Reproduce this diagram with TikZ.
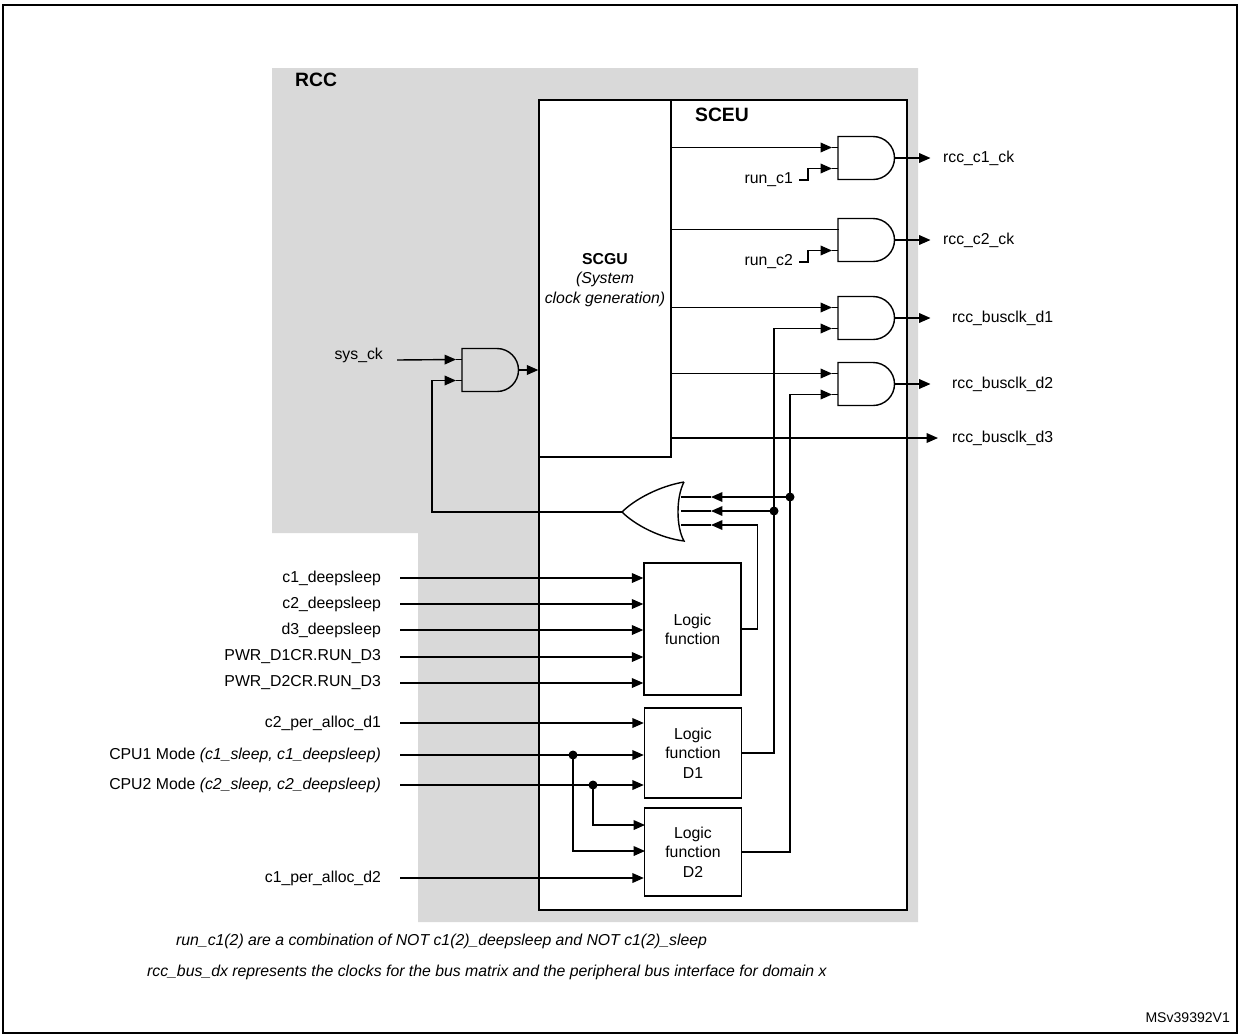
\documentclass[tikz,border=0pt]{standalone}
\usepackage{fontspec}
\setmainfont{Liberation Sans}
\usetikzlibrary{arrows.meta}

\tikzset{
  wire/.style={line width=0.8pt},
  ar/.style={wire, -{Triangle[length=6.5pt,width=5.5pt]}},
  lbl/.style={font=\fontsize{9}{11}\selectfont, inner sep=1pt},
  lfbox/.style={draw, wire, minimum width=1.94cm, align=center, font=\fontsize{9}{11}\selectfont},
}

% AND gate: name, left x, centre y
\newcommand\andg[3]{%
  \draw[wire] (#2,#3-21.5) -- ++(35,0) arc(-90:90:21.5) -- ++(-35,0) -- cycle;
  \coordinate (#1a) at (#2-6,#3-10.5);
  \coordinate (#1b) at (#2-6,#3+10.5);
  \coordinate (#1o) at (#2+56.5,#3);
  \draw[wire] (#1a) -- ++(6,0);
  \draw[wire] (#1b) -- ++(6,0);}

\begin{document}
\begin{tikzpicture}[x=0.02cm,y=-0.02cm]
  \useasboundingbox (0,0) rectangle (1240,1035);
  \draw[wire] (3,5) rectangle (1237,1033);

  %RCC area
  \fill[gray!30] (272,68) -- (918,68) -- (918,922) -- (418,922) -- (418,533) -- (272,533) -- cycle;
  \node[lbl, font=\fontsize{11}{13}\selectfont\bfseries, anchor=west] (rcc) at (293,80) {RCC};

  %SCEU
  \draw[wire, fill=white] (539,100) rectangle (907,910);
  \node[lbl, font=\fontsize{11}{13}\selectfont\bfseries, anchor=west] (sceu) at (693,115) {SCEU};
  \node[draw, wire, minimum width=2.64cm, minimum height=7.14cm] (scgu) at (605,278.5) {};
  \node[lbl, align=center] (scgut) at (605,280) {\textbf{SCGU}\\\textit{(System}\\\textit{clock generation)}};

  %gates
  \andg{ga}{838}{158}
  \andg{gb}{838}{240}
  \andg{gc}{838}{318}
  \andg{gd}{838}{384}
  \andg{gs}{462}{370}

  \draw[ar] (scgu.east |- gaa) -- (gaa);
  \draw[wire] (scgu.east |- gba) -- ++(167,0);
  \draw[ar] (scgu.east |- gca) -- (gca);
  \draw[ar] (scgu.east |- gda) -- (gda);
  \node[lbl, anchor=west] (bd3) at (950,438) {rcc\_busclk\_d3};
  \coordinate (bd3e) at (938,438);
  \draw[ar] (scgu.east |- bd3) -- (bd3e);

  \node[lbl, anchor=east] (runa) at (795,180) {run\_c1};
  \node[lbl, anchor=east] (runb) at (795,262) {run\_c2};
  \draw[ar] (runa.east) ++(4,0) -- ++(9,0) |- (gab);
  \draw[ar] (runb.east) ++(4,0) -- ++(9,0) |- (gbb);

  \node[lbl, anchor=west] (oa) at (941,158) {rcc\_c1\_ck};
  \node[lbl, anchor=west] (ob) at (941,240) {rcc\_c2\_ck};
  \node[lbl, anchor=west] (oc) at (950,318) {rcc\_busclk\_d1};
  \node[lbl, anchor=west] (od) at (950,384) {rcc\_busclk\_d2};
  \draw[ar] (gao) -- ++(36,0);
  \draw[ar] (gbo) -- ++(36,0);
  \draw[ar] (gco) -- ++(36,0);
  \draw[ar] (gdo) -- ++(36,0);

  \node[lbl, anchor=east] (sys) at (385,355) {sys\_ck};
  \coordinate (sysw) at (397,360);
  \draw[ar] (sysw) -- (gsa);
  \draw[ar] (gso) -- (scgu.west |- gso);

  %OR gate
  \draw[wire] (684,482) .. controls (676,497) and (676,527) .. (684,541)
    .. controls (660,538) and (635,525) .. (622,512)
    .. controls (635,499) and (660,486) .. (684,482);
  \coordinate (ora) at (711,497);
  \coordinate (orb) at (711,511);
  \coordinate (orc) at (711,525);
  \coordinate (oro) at (622,512);
  \foreach \c in {ora,orb,orc} \draw[wire] (\c) -- ++(-30,0);
  \draw[ar] (oro) -- (432,512) |- (gsb);

  %logic functions
  \node[lfbox, minimum height=2.64cm] (lf) at (692.5,629) {Logic\\function};
  \node[lfbox, minimum height=1.8cm] (lfa) at (693,753) {Logic\\function\\D1};
  \node[lfbox, minimum height=1.76cm] (lfb) at (693,852) {Logic\\function\\D2};

  \coordinate (ja) at (774,511);
  \coordinate (jb) at (790,497);
  \draw[ar] (lf.east) -- ++(16,0) |- (orc);
  \draw[ar] (lfa.east) -- (lfa.east -| ja) |- (gcb);
  \draw[ar] (ja) -- (orb);
  \fill (ja) circle (4.5);
  \draw[ar] (lfb.east) -- (lfb.east -| jb) |- (gdb);
  \draw[ar] (jb) -- (ora);
  \fill (jb) circle (4.5);

  %inputs
  \foreach \y/\t [count=\i] in {578/c1\_deepsleep, 604/c2\_deepsleep, 630/d3\_deepsleep,
      657/PWR\_D1CR.RUN\_D3, 683/PWR\_D2CR.RUN\_D3} {
    \node[lbl, anchor=east] (in\i) at (383,\y) {\t};
    \draw[ar] (400,\y) -- (lf.west |- in\i);
  }
  \node[lbl, anchor=east] (pa) at (383,723) {c2\_per\_alloc\_d1};
  \node[lbl, anchor=east] (cpa) at (383,755) {CPU1 Mode \textit{(c1\_sleep, c1\_deepsleep)}};
  \node[lbl, anchor=east] (cpb) at (383,785) {CPU2 Mode \textit{(c2\_sleep, c2\_deepsleep)}};
  \node[lbl, anchor=east] (pb) at (383,878) {c1\_per\_alloc\_d2};
  \draw[ar] (400,723) -- (lfa.west |- pa);
  \draw[ar] (400,755) -- (lfa.west |- cpa);
  \draw[ar] (400,785) -- (lfa.west |- cpb);
  \draw[ar] (400,878) -- (lfb.west |- pb);
  \coordinate (da) at (573,755);
  \coordinate (db) at (593,785);
  \coordinate (ta) at (645,825);
  \coordinate (tb) at (645,851);
  \fill (da) circle (4.5);
  \fill (db) circle (4.5);
  \draw[ar] (db) |- (ta);
  \draw[ar] (da) |- (tb);

  %notes
  \node[lbl, anchor=west, font=\fontsize{9}{11}\selectfont\itshape] (na) at (174,941)
    {run\_c1(2) are a combination of NOT c1(2)\_deepsleep and NOT c1(2)\_sleep};
  \node[lbl, anchor=west, font=\fontsize{9}{11}\selectfont\itshape] (nb) at (145,972)
    {rcc\_bus\_dx represents the clocks for the bus matrix and the peripheral bus interface for domain x};
  \node[lbl, anchor=east, font=\fontsize{8}{9}\selectfont] (ms) at (1232,1018) {MSv39392V1};
\end{tikzpicture}
\end{document}
